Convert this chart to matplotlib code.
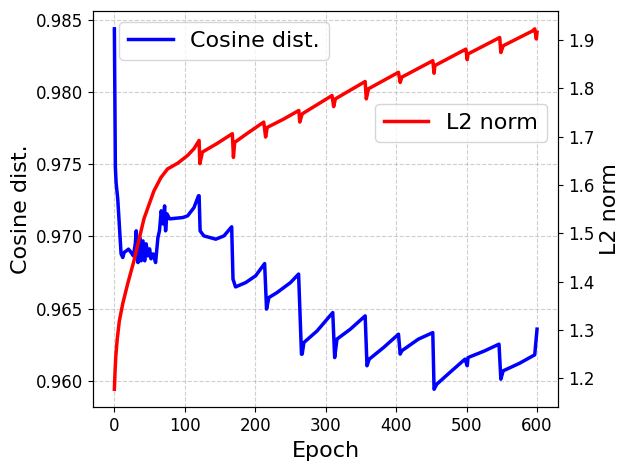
import matplotlib
matplotlib.use("Agg")
import matplotlib.pyplot as plt

# Cosine distance keypoints (epoch, value)
cos_epoch = [0, 1.4, 2.5, 4.8, 9.5, 11.9, 14, 17, 20, 24, 27, 29.7, 31, 33.5, 36, 38,
             40.6, 43, 45, 47.7, 50, 52, 55, 58.5, 61.8, 64, 66.5, 69, 71.3, 72.7,
             74.6, 78.4, 97, 104, 113, 119.4, 120.3, 121.7, 127, 144, 155.6, 166.5,
             168.4, 172, 186.4, 200.5, 213.3, 216, 219.3, 231, 250, 261.5, 265.6,
             266.6, 269, 287.8, 310, 312.7, 316, 335, 356, 358.6, 361.8, 382, 403.3,
             405.7, 408, 431.6, 452, 453.8, 457.6, 477, 497.7, 500.9, 502, 525, 546,
             548.6, 551.9, 575, 596.7, 600]
cos_value = [0.98440, 0.97480, 0.97370, 0.97260, 0.96880, 0.96854, 0.96890, 0.96900,
             0.96912, 0.96888, 0.96865, 0.96950, 0.97039, 0.96819, 0.96992, 0.96831,
             0.96969, 0.96831, 0.96949, 0.96865, 0.96914, 0.96845, 0.96879, 0.96819,
             0.96992, 0.97039, 0.97178, 0.97087, 0.97212, 0.97039, 0.97157, 0.97122,
             0.97131, 0.97143, 0.97200, 0.97282, 0.97282, 0.97039, 0.97004, 0.96981,
             0.97004, 0.97067, 0.96704, 0.96650, 0.96680, 0.96727, 0.96812, 0.96496,
             0.96576, 0.96611, 0.96680, 0.96739, 0.96183, 0.96184, 0.96264, 0.96345,
             0.96472, 0.96160, 0.96288, 0.96357, 0.96449, 0.96103, 0.96149, 0.96229,
             0.96322, 0.96184, 0.96207, 0.96288, 0.96333, 0.95940, 0.95975, 0.96060,
             0.96149, 0.96103, 0.96160, 0.96205, 0.96253, 0.96010, 0.96068, 0.96120,
             0.96179, 0.96357]

# L2 norm keypoints (epoch, value)
l2_epoch = [0, 1, 2, 4, 7, 12, 19, 28, 42, 56, 66, 75.5, 90, 104, 113, 120.3, 121.3,
            125, 145, 167.5, 169, 170.8, 190, 212, 214.7, 217, 240, 261.8, 263.2,
            266.6, 309, 311.3, 313.7, 356, 357.6, 360.8, 403.3, 405.7, 408, 452,
            453.8, 455, 499, 500.9, 502, 547, 548.6, 552, 594, 596.7, 599, 600]
l2_value = [1.177, 1.215, 1.245, 1.280, 1.318, 1.355, 1.396, 1.444, 1.530, 1.587,
            1.615, 1.633, 1.645, 1.661, 1.675, 1.692, 1.644, 1.668, 1.685, 1.706,
            1.657, 1.688, 1.708, 1.730, 1.699, 1.719, 1.736, 1.754, 1.730, 1.747,
            1.785, 1.762, 1.778, 1.814, 1.778, 1.799, 1.833, 1.812, 1.823, 1.857,
            1.831, 1.847, 1.881, 1.859, 1.871, 1.905, 1.874, 1.888, 1.919, 1.923,
            1.902, 1.916]

fig = plt.figure(figsize=(6.3, 4.7), dpi=100)
ax1 = fig.add_subplot(111)
fig.subplots_adjust(left=0.148, right=0.886, top=0.977, bottom=0.1334)

ax1.plot(cos_epoch, cos_value, color='blue', lw=2.5, label='Cosine dist.')
ax1.set_xlabel('Epoch', fontsize=16)
ax1.set_ylabel('Cosine dist.', fontsize=16)
ax1.tick_params(labelsize=12)
ax1.grid(True, linestyle='--', alpha=0.6)
ax1.legend(loc='upper left', bbox_to_anchor=(0.056, 0.972), borderaxespad=0,
           fontsize=16)

ax2 = ax1.twinx()
ax2.plot(l2_epoch, l2_value, color='red', lw=2.5, label='L2 norm')
ax2.set_ylabel('L2 norm', fontsize=16)
ax2.tick_params(labelsize=12)
ax2.legend(loc='upper right', bbox_to_anchor=(0.976, 0.765), borderaxespad=0,
           fontsize=16)

fig.savefig('out.png', dpi=100)
